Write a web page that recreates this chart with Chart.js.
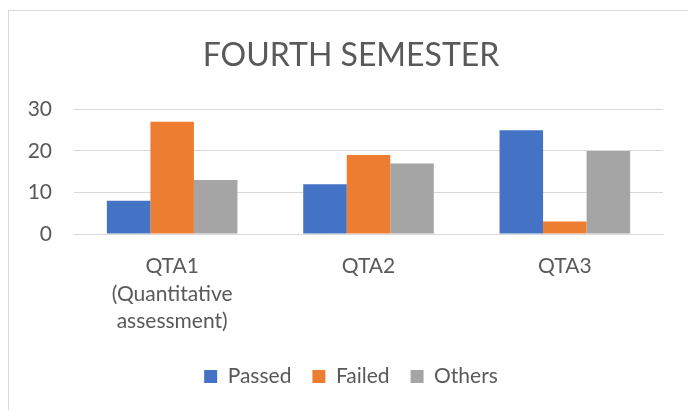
<!DOCTYPE html>
<html>
<head>
<meta charset="utf-8">
<script src="https://cdn.jsdelivr.net/npm/chart.js@4.4.0/dist/chart.umd.min.js"></script>
<style>
    body {
        margin: 0;
        background: #ffffff;
        overflow: hidden;
    }

    .moldura {
        position: absolute;
        left: 8px;
        top: 10px;
        width: 700px;
        height: 420px;
        border-left: 1px solid #d9d9d9;
        border-top: 1px solid #d9d9d9;
    }

    .chartDiv {
        position: absolute;
        left: 0;
        top: 0;
        width: 688px;
        height: 410px;
    }
</style>
</head>
<body>
<div class="moldura"></div>
<div class="chartDiv">
    <canvas id="barChart"></canvas>
</div>
<script>
const categorias = [
    ["QTA1", "(Quantitative", "assessment)"],
    "QTA2",
    "QTA3"
];
const passed = [8, 12, 25];
const failed = [27, 19, 3];
const others = [13, 17, 20];
const yTicks = [0, 10, 20, 30];

const corTexto = "#595959";
const corGrade = "#d9d9d9";

Chart.defaults.font.family = "Lato";
Chart.defaults.color = corTexto;

// deixa os rotulos do eixo y sairem da caixa do eixo (nao cortar o "3" do 30)
const soltarEixoY = {
    id: "soltarEixoY",
    afterLayout: (chart) => {
        chart.scales.y.left = 0;
    }
};

const ctx = document.getElementById("barChart");

new Chart(ctx, {
    type: 'bar',
    data: {
        labels: categorias,
        datasets: [
            {
                label: "Passed",
                data: passed,
                backgroundColor: "#4472c4",
                borderWidth: 0
            },
            {
                label: "Failed",
                data: failed,
                backgroundColor: "#ed7d31",
                borderWidth: 0
            },
            {
                label: "Others",
                data: others,
                backgroundColor: "#a5a5a5",
                borderWidth: 0
            }
        ]
    },
    plugins: [soltarEixoY],
    options: {
        responsive: true,
        maintainAspectRatio: false,
        animation: false,
        datasets: {
            bar: {
                categoryPercentage: 0.665,
                barPercentage: 1
            }
        },
        layout: {
            padding: {
                left: 39,
                right: 25,
                top: 0,
                bottom: 13
            }
        },
        scales: {
            x: {
                afterFit: (scale) => {
                    scale.height = 111;
                },
                grid: {
                    display: false,
                    drawTicks: false
                },
                border: {
                    color: corGrade,
                    width: 1
                },
                ticks: {
                    padding: 19,
                    maxRotation: 0,
                    font: { size: 21, lineHeight: 1.3 }
                }
            },
            y: {
                min: yTicks[0],
                max: yTicks[yTicks.length - 1],
                afterFit: (scale) => {
                    scale.width = 35;
                },
                afterBuildTicks: (scale) => {
                    scale.ticks = yTicks.map(v => ({ value: v }));
                },
                grid: {
                    color: corGrade,
                    drawTicks: false
                },
                border: {
                    display: false
                },
                ticks: {
                    padding: 22,
                    font: { size: 21 }
                }
            }
        },
        plugins: {
            title: {
                display: true,
                text: "FOURTH SEMESTER",
                color: corTexto,
                font: { size: 32, weight: 'normal', lineHeight: 1.2 },
                padding: { top: 36, bottom: 35 }
            },
            legend: {
                position: "bottom",
                labels: {
                    boxWidth: 13,
                    boxHeight: 13,
                    padding: 21,
                    font: { size: 21 }
                }
            },
            tooltip: { enabled: false }
        }
    }
});
</script>
</body>
</html>
